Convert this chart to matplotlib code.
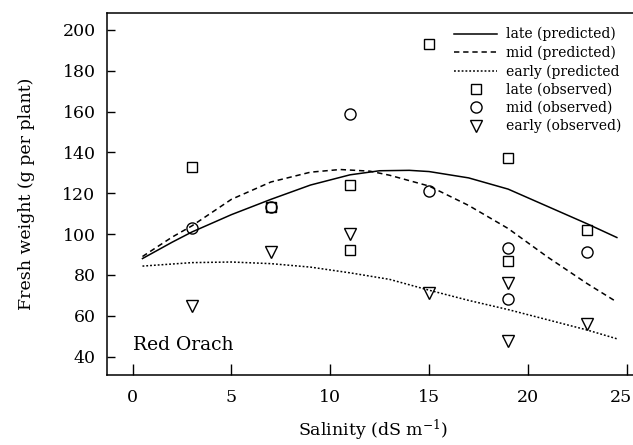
import matplotlib
matplotlib.use('Agg')
import matplotlib.pyplot as plt
from matplotlib.transforms import ScaledTranslation

plt.rcParams['font.family'] = 'DejaVu Serif'
plt.rcParams['mathtext.fontset'] = 'dejavuserif'

# predicted curves
pred_x = [0.5, 2, 3, 5, 7, 9, 11, 12.5, 14, 15, 17, 19, 21, 23, 24.5]
late_pred = [88, 96, 101, 109.5, 117, 124, 129, 131, 131.2, 130.6, 127.5, 122, 113.5, 105, 98.3]
mid_pred_x = [0.5, 2, 3, 5, 7, 9, 10.5, 12, 13, 15, 17, 19, 21, 23, 24.5]
mid_pred = [89, 98.5, 104, 117, 125.5, 130.3, 131.6, 130.8, 128.8, 123.5, 114, 102.7, 88.7, 75.7, 66.7]
early_pred_x = [0.5, 3, 5, 7, 9, 11, 13, 15, 17, 19, 21, 23, 24.5]
early_pred = [84.3, 86, 86.3, 85.5, 83.8, 81, 77.8, 72.5, 67.5, 63, 58, 53, 48.7]

# observed
late_x = [3, 7, 11, 11, 15, 19, 19, 23]
late_obs = [133, 113, 124, 92, 193, 137, 87, 102]
mid_x = [3, 7, 11, 15, 19, 19, 23]
mid_obs = [103, 113, 159, 121, 93, 68, 91]
early_x = [3, 7, 11, 15, 19, 19, 23]
early_obs = [65, 91, 100, 71, 76, 47.5, 56]

fig = plt.figure(figsize=(6.33, 4.45), dpi=100)
ax = fig.add_axes([0.1695, 0.157, 0.84, 0.814])

ax.plot(pred_x, late_pred, color='black', lw=1.1, label='late (predicted)')
ax.plot(mid_pred_x, mid_pred, color='black', lw=1.1, linestyle=(0, (3.5, 2.5)), label='mid (predicted)')
ax.plot(early_pred_x, early_pred, color='black', lw=1.1, linestyle=(0, (1.2, 1.3)), label='early (predicted')

ax.plot(late_x, late_obs, 's', ms=7, mfc='none', mec='black', mew=1.0, label='late (observed)')
ax.plot(mid_x, mid_obs, 'o', ms=8, mfc='none', mec='black', mew=1.0, label='mid (observed)')
ax.plot(early_x, early_obs, 'v', ms=8, mfc='none', mec='black', mew=1.0, label='early (observed)')

ax.set_xlim(-1.28, 25.62)
ax.set_ylim(30.9, 208.3)
ax.set_xticks([0, 5, 10, 15, 20, 25])
ax.set_yticks([40, 60, 80, 100, 120, 140, 160, 180, 200])
ax.tick_params(axis='x', direction='in', length=8, width=1, pad=10, labelsize=12.5)
ax.tick_params(axis='y', direction='in', length=6, width=1, pad=8.5, labelsize=12.5)
ax.spines['right'].set_visible(False)
for s in ['left', 'bottom', 'top']:
    ax.spines[s].set_linewidth(1.1)

# last x label sits at the figure edge, nudge it in a little
lab = ax.get_xticklabels()[-1]
lab.set_transform(lab.get_transform() + ScaledTranslation(-4 / 72, 0, fig.dpi_scale_trans))

ax.set_xlabel('Salinity (dS m$^{-1}$)', fontsize=12.5, labelpad=8.5)
ax.set_ylabel('Fresh weight (g per plant)', fontsize=12.5, labelpad=20)

ax.text(0, 45.5, 'Red Orach', fontsize=13.5, va='center', ha='left')

ax.legend(loc='upper left', bbox_to_anchor=(454 / 633, 1 - 27 / 445), bbox_transform=fig.transFigure,
          frameon=False, fontsize=10, handlelength=3.1, handletextpad=0.65, labelspacing=0.3,
          borderpad=0, borderaxespad=0)

fig.savefig('out.png', dpi=100)
